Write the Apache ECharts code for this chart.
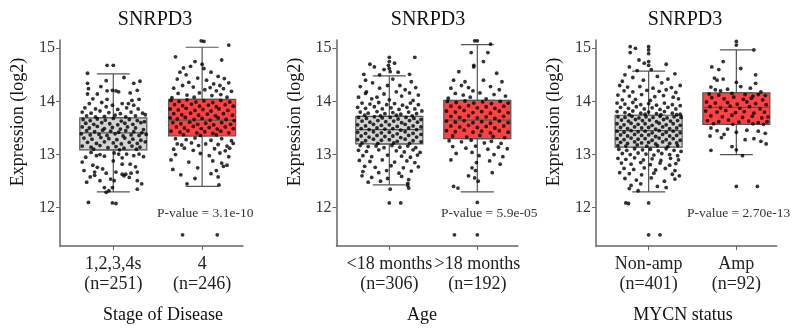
<!DOCTYPE html>
<html>
<head>
<meta charset="utf-8">
<script src="https://cdn.jsdelivr.net/npm/echarts@6/dist/echarts.min.js"></script>
<style>
  html, body { margin: 0; background: #fff; }
  #chart { width: 799px; height: 333px; }
</style>
</head>
<body>
<div id="chart"></div>
<script>
// categories and group sizes
const stageLabels = ['1,2,3,4s', '4']
const stageN = [251, 246]
const ageLabels = ['<18 months', '>18 months']
const ageN = [306, 192]
const mycnLabels = ['Non-amp', 'Amp']
const mycnN = [401, 92]

// box stats: [lower whisker, Q1, median, Q3, upper whisker]
const stageBox = [[12.30, 13.09, 13.41, 13.69, 14.52], [12.40, 13.35, 13.65, 14.04, 15.02]]
const ageBox = [[12.43, 13.20, 13.47, 13.72, 14.48], [12.30, 13.30, 13.65, 14.02, 15.07]]
const mycnBox = [[12.30, 13.14, 13.45, 13.74, 14.57], [13.00, 13.57, 13.89, 14.16, 14.97]]

const pValues = ['3.1e-10', '5.9e-05', '2.70e-13']
const yTicks = [12, 13, 14, 15]
const xTicks = [1, 2]

// jittered samples: [offset from group centre in 1/100 of a category, expression]
const stageLowPts = [[-7,14.68],[0,14.68],[-28,12.10],[-1,12.09],[3,12.08],
[-29,14.53],[-29,14.34],[-8,14.39],[23,14.34],[-28,14.24],[-1,14.21],[3,14.20],[6,14.18],[27,14.21],[-7,14.20],[-29,14.14],[-18,14.14],[19,14.16],[-23,14.05],[-7,14.04],[21,14.02],[29,14.04],[12,14.45],[-14,14.28],[30,14.38],
[-27,13.96],[-13,13.98],[-1,13.93],[10,13.96],[17,13.96],[23,13.93],[-32,13.88],[-20,13.86],[-8,13.90],[5,13.85],[15,13.88],[28,13.86],[-35,13.80],[-25,13.78],[-15,13.82],[-5,13.79],[8,13.77],[20,13.80],[33,13.78],[-30,13.73],[-10,13.72],[2,13.74],[14,13.71],[25,13.73],[36,13.75],[-20,13.71],
[-34,13.66],[-26,13.64],[-18,13.67],[-9,13.65],[0,13.68],[9,13.63],[18,13.66],[27,13.64],[35,13.62],
[-31,13.59],[-22,13.57],[-13,13.60],[-4,13.58],[5,13.56],[13,13.59],[22,13.57],[31,13.60],
[-35,13.52],[-27,13.50],[-18,13.53],[-10,13.49],[-1,13.51],[8,13.48],[16,13.52],[25,13.50],[34,13.47],
[-30,13.45],[-21,13.43],[-12,13.46],[-3,13.44],[6,13.42],[14,13.45],[23,13.43],[32,13.41],
[-36,13.39],[-26,13.37],[-16,13.38],[-7,13.36],[2,13.39],[11,13.35],[20,13.37],[29,13.36],[37,13.38],
[-33,13.31],[-24,13.29],[-14,13.32],[-5,13.30],[4,13.28],[13,13.31],[22,13.29],[31,13.27],
[-29,13.23],[-19,13.21],[-10,13.24],[0,13.22],[9,13.20],[18,13.23],[27,13.21],[36,13.24],
[-35,13.16],[-25,13.14],[-15,13.17],[-6,13.13],[3,13.15],[12,13.12],[21,13.16],[30,13.14],
[-22,13.10],[7,13.09],[26,13.10],
[-25,13.04],[-19,12.98],[-15,13.00],[1,13.03],[6,13.01],[15,13.01],[23,12.98],[29,13.01],
[-31,12.95],[-10,12.97],[10,12.94],[34,12.96],
[-23,12.80],[-18,12.76],[-12,12.73],[10,12.82],[19,12.82],[25,12.77],[-35,12.86],[0,12.88],
[-21,12.67],[-8,12.65],[3,12.67],[14,12.63],[20,12.65],[27,12.67],[-33,12.70],
[-21,12.61],[-15,12.51],[-3,12.54],[1,12.51],[10,12.63],[12,12.60],[18,12.57],[27,12.51],[-26,12.58],
[-10,12.38],[-1,12.38],[-5,12.32],[27,12.35],[-8,12.29],[32,12.45],[-30,12.48]]

const stageHighPts = [[-1,15.14],[2,15.13],[30,15.06],[-30,14.84],[-8,14.75],[22,14.78],[-21,14.63],[-13,14.66],[0,14.70],[2,14.62],[-25,14.55],[-18,14.50],[10,14.55],[18,14.47],[-28,14.42],[-5,14.44],[5,14.40],[25,14.43],[-15,14.36],[-22,14.30],[13,14.33],[20,14.30],[30,14.35],[-32,14.25],[-10,14.27],[3,14.22],[9,14.26],[16,14.20],[24,14.24],[33,14.19],[-27,14.15],[-17,14.12],[-3,14.16],[11,14.11],[21,14.13],[28,14.08],[-9,14.08],[-34,14.07],
[-35,14.02],[-26,14.00],[-17,14.03],[-7,13.99],[2,14.01],[12,13.98],[21,14.02],[31,13.99],
[-31,13.94],[-22,13.92],[-12,13.95],[-3,13.91],[7,13.93],[16,13.90],[26,13.94],[35,13.91],
[-36,13.86],[-27,13.84],[-18,13.87],[-8,13.83],[1,13.85],[10,13.82],[19,13.86],[29,13.83],
[-32,13.77],[-23,13.75],[-13,13.78],[-4,13.74],[6,13.76],[15,13.73],[24,13.77],[34,13.74],
[-36,13.69],[-28,13.67],[-19,13.70],[-9,13.66],[0,13.68],[9,13.65],[18,13.69],[27,13.66],[36,13.64],
[-33,13.60],[-24,13.58],[-14,13.61],[-5,13.57],[4,13.59],[13,13.56],[22,13.60],[32,13.57],
[-29,13.52],[-20,13.50],[-10,13.53],[-1,13.49],[8,13.51],[17,13.48],[26,13.52],[35,13.49],
[-35,13.44],[-25,13.42],[-16,13.45],[-6,13.41],[3,13.43],[12,13.40],[21,13.44],[30,13.41],
[-21,13.37],[-2,13.36],[16,13.37],
[-30,13.30],[-18,13.28],[-8,13.31],[10,13.27],[22,13.30],[33,13.26],
[-28,13.20],[-23,13.18],[-12,13.22],[-4,13.17],[4,13.20],[18,13.19],[28,13.16],[35,13.21],
[-32,13.10],[-20,13.12],[-10,13.08],[14,13.11],[26,13.07],[31,13.12],
[-30,13.00],[-2,13.02],[8,12.98],[20,13.03],[30,12.96],
[-35,12.90],[-15,12.86],[12,12.88],[22,12.84],[28,12.80],
[-33,12.72],[-5,12.75],[16,12.70],[24,12.78],
[-24,12.62],[10,12.64],[-8,12.55],[18,12.58],
[-17,12.45],[19,12.43],[-22,11.49],[17,11.49]]

const ageYoungPts = [[29,14.83],[0,14.83],[-22,14.70],[-17,14.65],[0,14.75],[-1,14.68],[0,14.62],[1,14.56],[6,14.72],[-6,14.60],[-29,14.51],[-11,14.50],[10,14.55],[23,14.51],
[-27,14.40],[-19,14.35],[4,14.42],[12,14.30],[25,14.37],[-33,14.28],[-11,14.25],[-2,14.30],[18,14.22],[30,14.26],[-26,14.18],[-27,14.15],[-6,14.14],[8,14.18],[14,14.10],[23,14.16],[33,14.12],[-20,14.05],[-35,14.08],[0,14.03],[27,14.02],[-14,14.08],
[-31,13.97],[-22,13.95],[-12,13.98],[-3,13.94],[6,13.96],[15,13.93],[24,13.97],[33,13.94],
[-36,13.89],[-27,13.87],[-17,13.90],[-8,13.86],[2,13.88],[11,13.85],[20,13.89],[29,13.86],
[-33,13.80],[-24,13.78],[-14,13.81],[-5,13.77],[4,13.79],[13,13.76],[22,13.80],[31,13.77],[37,13.82],
[-28,13.74],[-10,13.73],[8,13.74],[26,13.73],
[-35,13.70],[-26,13.68],[-17,13.71],[-8,13.69],[1,13.70],[10,13.67],[19,13.70],[28,13.68],[36,13.66],
[-31,13.63],[-22,13.61],[-13,13.64],[-4,13.62],[5,13.63],[14,13.60],[23,13.64],[32,13.61],
[-36,13.56],[-27,13.54],[-18,13.57],[-9,13.55],[0,13.56],[9,13.53],[18,13.57],[27,13.54],[36,13.52],
[-32,13.49],[-23,13.47],[-14,13.50],[-5,13.48],[4,13.49],[13,13.46],[22,13.50],[31,13.47],
[-36,13.42],[-27,13.40],[-18,13.43],[-9,13.41],[0,13.42],[9,13.39],[18,13.43],[27,13.40],[36,13.38],
[-32,13.35],[-23,13.33],[-14,13.36],[-5,13.34],[4,13.35],[13,13.32],[22,13.36],[31,13.33],
[-36,13.28],[-27,13.26],[-18,13.29],[-9,13.27],[0,13.28],[9,13.25],[18,13.29],[27,13.26],[36,13.24],
[-31,13.22],[-13,13.21],[5,13.22],[23,13.21],
[-33,13.17],[-24,13.15],[-15,13.16],[-6,13.13],[3,13.17],[12,13.14],[21,13.16],[30,13.13],
[-35,13.08],[-26,13.06],[-12,13.09],[8,13.07],[17,13.05],[27,13.09],[35,13.04],
[-30,12.98],[-20,12.96],[-2,12.99],[14,12.97],[24,12.95],[32,12.99],
[-34,12.89],[-22,12.87],[-8,12.90],[6,12.86],[20,12.88],[29,12.85],
[-28,12.78],[-16,12.76],[2,12.79],[16,12.75],[33,12.77],
[-30,12.68],[-12,12.66],[-3,12.70],[11,12.65],[25,12.69],
[-31,12.60],[-20,12.57],[-2,12.55],[14,12.59],[22,12.53],
[-24,12.48],[-10,12.50],[21,12.46],[1,12.35],[21,12.42],[22,12.37],[0,12.09],[13,12.09]]

const ageOldPts = [[-3,15.14],[0,15.14],[15,15.08],[-7,14.92],[12,14.92],[-4,14.68],[-4,14.65],[7,14.75],[22,14.53],[-21,14.56],[-27,14.40],[-14,14.37],[7,14.40],[28,14.37],[-18,14.30],[-30,14.25],[-10,14.26],[-5,14.20],[15,14.28],[25,14.22],[-25,14.15],[-16,14.12],[3,14.16],[19,14.13],[32,14.10],[-33,14.06],[-8,14.08],[10,14.05],
[-34,14.00],[-24,13.98],[-14,14.01],[-4,13.97],[6,13.99],[16,13.96],[26,14.00],[35,13.97],
[-30,13.91],[-20,13.89],[-10,13.92],[0,13.88],[10,13.90],[20,13.87],[30,13.91],
[-35,13.82],[-25,13.80],[-15,13.83],[-5,13.79],[5,13.81],[15,13.78],[25,13.82],[35,13.79],
[-30,13.72],[-20,13.70],[-10,13.73],[0,13.69],[10,13.71],[20,13.68],[30,13.72],
[-35,13.63],[-25,13.61],[-15,13.64],[-5,13.60],[5,13.62],[15,13.59],[25,13.63],[35,13.60],
[-30,13.54],[-20,13.52],[-10,13.55],[0,13.51],[10,13.53],[20,13.50],[30,13.54],
[-35,13.45],[-25,13.43],[-15,13.46],[-5,13.42],[5,13.44],[15,13.41],[25,13.45],[35,13.42],
[-28,13.35],[-12,13.33],[3,13.36],[18,13.34],[31,13.32],
[-32,13.26],[-18,13.24],[-7,13.27],[8,13.22],[16,13.25],[27,13.21],
[-28,13.15],[-13,13.12],[-2,13.16],[12,13.10],[24,13.14],[34,13.11],
[-24,13.02],[-6,13.04],[2,12.98],[19,13.00],[29,12.96],
[-30,12.90],[-1,12.85],[14,12.88],[26,12.82],
[-6,12.75],[-2,12.70],[17,12.66],[-3,12.56],[1,12.50],[-10,12.60],
[-27,12.40],[-22,12.37],[0,12.10],[-26,11.49],[0,11.49]]

const nonAmpPts = [[-21,15.03],[-15,15.00],[0,15.03],[0,14.97],[0,14.90],[-21,14.92],[-11,14.78],[-5,14.72],[0,14.75],[0,14.68],[20,14.70],[-22,14.65],[-13,14.58],[3,14.60],[30,14.52],[-27,14.50],[-18,14.45],[10,14.47],[22,14.42],[-30,14.38],[-6,14.40],[15,14.35],
[-33,14.30],[-24,14.27],[-10,14.28],[5,14.25],[26,14.26],[36,14.30],[-28,14.20],[-18,14.18],[-2,14.21],[12,14.19],[20,14.22],[31,14.17],[-35,14.12],[-22,14.10],[-8,14.13],[7,14.09],[17,14.11],[28,14.08],[-30,14.03],[-15,14.04],[2,14.02],[34,14.05],
[-36,13.97],[-27,13.95],[-18,13.98],[-9,13.94],[0,13.96],[9,13.93],[18,13.97],[27,13.94],[36,13.92],
[-32,13.89],[-23,13.87],[-14,13.90],[-5,13.86],[4,13.88],[13,13.85],[22,13.89],[31,13.86],
[-36,13.81],[-27,13.79],[-18,13.82],[-9,13.78],[0,13.80],[9,13.77],[18,13.81],[27,13.78],[36,13.76],
[-22,13.75],[-4,13.76],[14,13.75],[32,13.75],
[-35,13.71],[-27,13.70],[-19,13.72],[-11,13.69],[-3,13.71],[5,13.70],[13,13.72],[21,13.69],[29,13.71],[37,13.70],
[-31,13.65],[-23,13.63],[-15,13.66],[-7,13.64],[1,13.65],[9,13.62],[17,13.66],[25,13.63],[33,13.64],
[-36,13.58],[-28,13.56],[-20,13.59],[-12,13.57],[-4,13.58],[4,13.55],[12,13.59],[20,13.56],[28,13.58],[36,13.55],
[-32,13.51],[-24,13.49],[-16,13.52],[-8,13.50],[0,13.51],[8,13.48],[16,13.52],[24,13.49],[32,13.50],
[-36,13.44],[-28,13.42],[-20,13.45],[-12,13.43],[-4,13.44],[4,13.41],[12,13.45],[20,13.42],[28,13.44],[36,13.41],
[-32,13.37],[-24,13.35],[-16,13.38],[-8,13.36],[0,13.37],[8,13.34],[16,13.38],[24,13.35],[32,13.36],
[-36,13.30],[-28,13.28],[-20,13.31],[-12,13.29],[-4,13.30],[4,13.27],[12,13.31],[20,13.28],[28,13.30],[36,13.27],
[-32,13.23],[-24,13.21],[-16,13.24],[-8,13.22],[0,13.23],[8,13.20],[16,13.24],[24,13.21],[32,13.22],
[-35,13.17],[-26,13.16],[-13,13.18],[-2,13.16],[10,13.17],[22,13.15],[33,13.17],
[-34,13.10],[-25,13.08],[-16,13.11],[-7,13.09],[2,13.10],[11,13.07],[20,13.11],[29,13.08],[37,13.06],
[-30,13.02],[-21,13.00],[-12,13.03],[-3,13.01],[6,12.99],[15,13.02],[24,13.00],[33,12.98],
[-35,12.93],[-26,12.91],[-16,12.94],[-6,12.90],[4,12.92],[14,12.89],[25,12.93],[34,12.90],
[-31,12.84],[-20,12.82],[-9,12.85],[2,12.81],[13,12.84],[24,12.80],[31,12.83],
[-28,12.74],[-17,12.72],[-5,12.75],[8,12.71],[19,12.74],[30,12.70],
[-33,12.66],[-22,12.64],[-8,12.62],[6,12.65],[27,12.63],[35,12.60],
[-27,12.55],[-14,12.52],[3,12.56],[18,12.50],[30,12.54],
[-20,12.42],[-9,12.45],[10,12.40],[-22,12.36],[20,12.38],[-12,12.32],
[-26,12.09],[-23,12.08],[0,12.09],[0,11.49],[13,11.49]]

const ampPts = [[0,15.13],[14,15.16],[0,15.06],[20,14.97],[-15,14.75],[-28,14.65],[-20,14.60],[5,14.62],[22,14.50],[-25,14.44],[-22,14.40],[-15,14.42],[0,14.36],[22,14.34],[-29,14.27],[-24,14.22],[-18,14.20],[-10,14.23],[5,14.28],[16,14.25],[28,14.18],[-31,14.14],[-20,14.12],[-5,14.15],[10,14.13],[19,14.10],[25,14.13],[33,14.11],
[-28,14.07],[-14,14.05],[-3,14.08],[8,14.04],[17,14.06],[30,14.03],
[-34,13.99],[-24,13.97],[-10,13.98],[1,13.95],[12,13.99],[22,13.96],[34,13.94],
[-30,13.90],[-18,13.88],[-7,13.91],[4,13.87],[15,13.90],[27,13.86],
[-35,13.82],[-22,13.80],[-12,13.83],[-1,13.79],[9,13.81],[20,13.78],[32,13.80],
[-29,13.73],[-16,13.71],[-5,13.74],[7,13.70],[18,13.72],[29,13.69],[36,13.71],
[-33,13.64],[-20,13.62],[-9,13.65],[3,13.61],[14,13.63],[25,13.60],[35,13.62],
[-26,13.58],[-4,13.57],[19,13.58],[31,13.57],
[-29,13.50],[-22,13.45],[-10,13.48],[0,13.42],[12,13.46],[25,13.44],[33,13.40],[-30,13.35],[-17,13.32],[20,13.30],[28,13.25],[34,13.20],[-5,13.15],[10,13.28],[-14,13.38],
[-29,13.08],[0,13.09],[7,12.98],[0,12.40],[24,12.40]]

const boxColors = ['#d3d3d3', '#ff4242']
const font = 'Liberation Serif'
const axisGray = '#666'

const panels = [
    { left: 60, width: 183, titleX: 155, yNameX: 18, xNameX: 163, pX: 157, xName: 'Stage of Disease',
      labels: stageLabels, n: stageN, box: stageBox, pts: [stageLowPts, stageHighPts] },
    { left: 336.5, width: 181.3, titleX: 428, yNameX: 295, xNameX: 422, pX: 441, xName: 'Age',
      labels: ageLabels, n: ageN, box: ageBox, pts: [ageYoungPts, ageOldPts] },
    { left: 596, width: 180.7, titleX: 685, yNameX: 554, xNameX: 683, pX: 687, xName: 'MYCN status',
      labels: mycnLabels, n: mycnN, box: mycnBox, pts: [nonAmpPts, ampPts] }
]

const grid = [], xAxis = [], yAxis = [], series = [], graphic = []

panels.forEach((p, i) => {
    grid.push({ left: p.left, top: 40, width: p.width, height: 206, outerBoundsMode: 'none' })
    xAxis.push({
        gridIndex: i, type: 'value', min: 0.4, max: 2.46,
        axisLine: { lineStyle: { color: axisGray, width: 1.5 } },
        axisTick: { customValues: xTicks, length: 4, lineStyle: { color: axisGray } },
        axisLabel: {
            customValues: xTicks, margin: 8, fontFamily: font, fontSize: 18, lineHeight: 20, color: '#222',
            formatter: v => p.labels[v - 1] + '\n(n=' + p.n[v - 1] + ')'
        },
        splitLine: { show: false }
    })
    // hidden twin axis so the whisker series is not laid out beside the boxes
    xAxis.push({ gridIndex: i, type: 'value', min: 0.4, max: 2.46, show: false })
    yAxis.push({
        gridIndex: i, type: 'value', min: 11.28, max: 15.156,
        axisLine: { show: true, lineStyle: { color: axisGray, width: 1.5 } },
        axisTick: { show: true, customValues: yTicks, length: 4, lineStyle: { color: axisGray } },
        axisLabel: { customValues: yTicks, margin: 5, fontFamily: font, fontSize: 16, color: '#333' },
        splitLine: { show: false }
    })
    // whiskers with short caps
    series.push({
        type: 'boxplot', xAxisIndex: 2 * i + 1, yAxisIndex: i, z: 1, boxWidth: [33, 33],
        itemStyle: { color: '#fff', borderColor: '#555', borderWidth: 1.2 },
        data: p.box.map((b, k) => [xTicks[k]].concat(b)),
        silent: true
    })
    // the boxes themselves
    series.push({
        type: 'boxplot', xAxisIndex: 2 * i, yAxisIndex: i, z: 2, boxWidth: [67, 67],
        data: p.box.map((b, k) => ({
            value: [xTicks[k], b[1], b[1], b[2], b[3], b[3]],
            itemStyle: { color: boxColors[k], borderColor: '#555', borderWidth: 1.2 }
        })),
        silent: true
    })
    series.push({
        type: 'scatter', xAxisIndex: 2 * i, yAxisIndex: i, z: 3, symbolSize: 3.8,
        itemStyle: { color: '#000' },
        data: p.pts.flatMap((g, k) => g.map(([dx, y]) => [xTicks[k] + dx / 100, y])),
        silent: true
    })
    graphic.push(
        { type: 'text', x: p.titleX, y: 20, style: { text: 'SNRPD3', font: '20px "Liberation Serif"', fill: '#111', align: 'center', verticalAlign: 'middle' } },
        { type: 'text', x: p.yNameX, y: 122, rotation: Math.PI / 2, style: { text: 'Expression (log2)', font: '18px "Liberation Serif"', fill: '#111', align: 'center', verticalAlign: 'middle' } },
        { type: 'text', x: p.xNameX, y: 315, style: { text: p.xName, font: '18px "Liberation Serif"', fill: '#111', align: 'center', verticalAlign: 'middle' } },
        { type: 'text', x: p.pX, y: 213, style: { text: 'P-value = ' + pValues[i], font: '13.5px "Liberation Serif"', fill: '#333', align: 'left', verticalAlign: 'middle' } }
    )
})

const myChart = echarts.init(document.getElementById('chart'), null, { renderer: 'canvas' })
myChart.setOption({ animation: false, grid, xAxis, yAxis, series, graphic })
</script>
</body>
</html>
